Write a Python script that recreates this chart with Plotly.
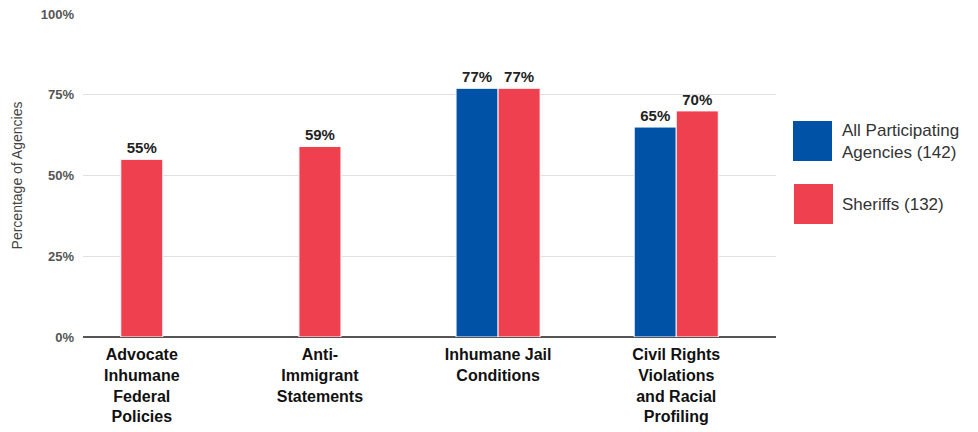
import plotly.graph_objects as go

categories = ["Advocate<br>Inhumane<br>Federal<br>Policies", "Anti-<br>Immigrant<br>Statements",
              "Inhumane Jail<br>Conditions", "Civil Rights<br>Violations<br>and Racial<br>Profiling"]
all_agencies = [None, None, 77, 65]
sheriffs = [55, 59, 77, 70]
series_names = ["All Participating<br>Agencies (142)", "Sheriffs (132)"]
y_ticks = [0, 25, 50, 75, 100]

BLUE = "#0052A6"
RED = "#EF404F"
W = 0.236
FONT = "Liberation Sans"

blue_off = [-W for v in all_agencies]
red_off = [(-W / 2 if a is None else 0.0) for a in all_agencies]

label_font = dict(family=FONT, size=15, color="#222", weight="bold")

fig = go.Figure()
fig.add_trace(go.Bar(x=categories, y=all_agencies, name=series_names[0], marker_color=BLUE,
                     marker_line=dict(color="white", width=1),
                     width=W, offset=blue_off, text=[f"{v}%" if v is not None else "" for v in all_agencies],
                     textposition="outside", cliponaxis=False, showlegend=False,
                     textfont=label_font))
fig.add_trace(go.Bar(x=categories, y=sheriffs, name=series_names[1], marker_color=RED,
                     marker_line=dict(color="white", width=1),
                     width=W, offset=red_off, text=[f"{v}%" for v in sheriffs],
                     textposition="outside", cliponaxis=False, showlegend=False,
                     textfont=label_font))

L, R, T, B = 83, 202, 14, 95
PW, PH = 978 - L - R, 432 - T - B

def px(x):
    return (x - L) / PW

def py(y):
    return (432 - B - y) / PH

shapes = []
annotations = []
for (x0, y0, col, name, ty) in [(793, 121, BLUE, series_names[0], 141), (794, 184, RED, series_names[1], 204)]:
    shapes.append(dict(type="rect", xref="paper", yref="paper", x0=px(x0), x1=px(x0 + 39),
                       y0=py(y0 + 40), y1=py(y0), fillcolor=col, line=dict(width=0)))
    annotations.append(dict(xref="paper", yref="paper", x=px(840), y=py(ty), text=name, showarrow=False,
                            xanchor="left", yanchor="middle", align="left",
                            font=dict(family=FONT, size=17, color="#333")))

fig.update_layout(
    width=978, height=432, margin=dict(l=L, r=R, t=T, b=B, autoexpand=False),
    paper_bgcolor="white", plot_bgcolor="white",
    barmode="group", showlegend=False,
    shapes=shapes, annotations=annotations,
    xaxis=dict(range=[-0.33, 3.56], showgrid=False, ticks="", showline=False, ticklabelstandoff=6,
               automargin=False,
               tickfont=dict(family=FONT, size=16, color="#111", weight="bold"), tickangle=0),
    yaxis=dict(range=[0, 100], tickvals=y_ticks, ticktext=[f"{v}%" for v in y_ticks], automargin=False,
               gridcolor="#e0e0e0", gridwidth=1, zeroline=True, zerolinecolor="#555", zerolinewidth=2,
               tickfont=dict(family=FONT, size=13, color="#555", weight="bold"), ticklabelstandoff=8,
               title=dict(text="Percentage of Agencies", font=dict(family=FONT, size=14, color="#444"),
                          standoff=14)),
)
fig.write_html("out.html")
